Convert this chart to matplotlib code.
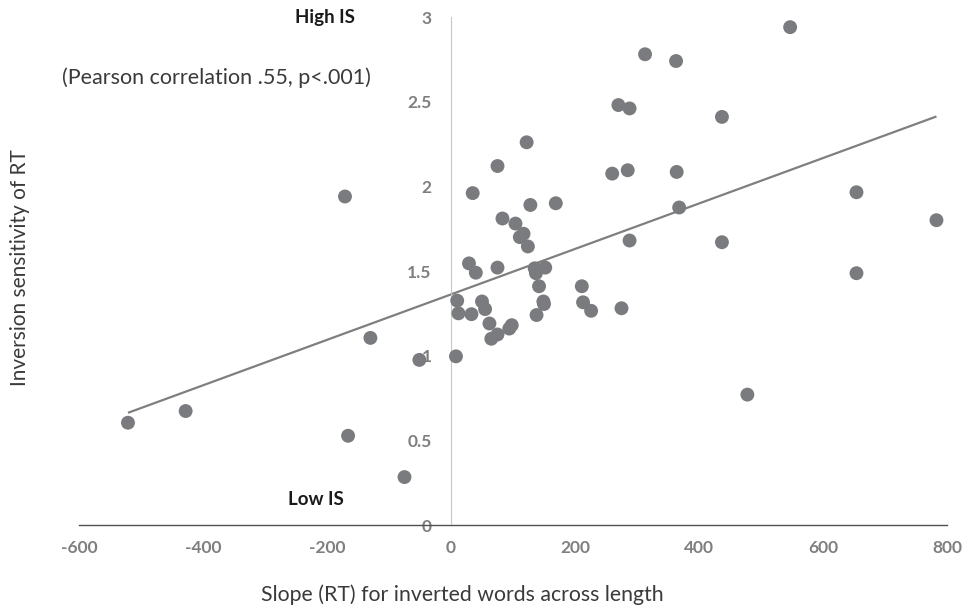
import numpy as np
import matplotlib
matplotlib.use("Agg")
import matplotlib.pyplot as plt

plt.rcParams['font.family'] = ['Lato', 'DejaVu Sans']
plt.rcParams['axes.unicode_minus'] = False

# slope (RT) for inverted words vs inversion sensitivity
slope_rt = [547, 313, 363, 270, 288, 437, 122, 75, 260, 285, 364, 35, 654, 128,
            169, 368, 783, 83, 104, 117, 111, 124, 288, 437, 29, 40, 75, 135,
            137, 152, 654, 142, 211, 10, 50, 55, 149, 150, 213, 226, 275, 12,
            33, 138, 62, 75, 65, 94, 98, 8, 478, -130, -51, -521, -428, -166,
            -75, -171]
inv_sens = [2.94, 2.78, 2.74, 2.48, 2.46, 2.41, 2.26, 2.12, 2.075, 2.095, 2.085,
            1.96, 1.965, 1.89, 1.90, 1.875, 1.80, 1.81, 1.78, 1.72, 1.70, 1.645,
            1.68, 1.67, 1.545, 1.49, 1.52, 1.516, 1.487, 1.52, 1.487, 1.41, 1.41,
            1.325, 1.32, 1.275, 1.32, 1.305, 1.315, 1.265, 1.28, 1.25, 1.245,
            1.24, 1.19, 1.125, 1.10, 1.16, 1.18, 0.996, 0.77, 1.105, 0.975,
            0.604, 0.673, 0.527, 0.283, 1.94]

xticks = [-600, -400, -200, 0, 200, 400, 600, 800]
xtick_labels = ["-600", "-400", "-200", "0", "200", "400", "600", "800"]
yticks = [0, 0.5, 1, 1.5, 2, 2.5, 3]
ytick_labels = ["0", "0.5", "1", "1.5", "2", "2.5", "3"]

x = np.array(slope_rt)
y = np.array(inv_sens)
m, b = np.polyfit(x, y, 1)

fig = plt.figure(figsize=(9.71, 6.10), dpi=100)
ax = fig.add_axes([79/971, 85/610, 868/971, 508/610])

ax.spines["left"].set_position(("data", 0))
ax.spines["left"].set_color("#c8c8c8")
ax.spines["left"].set_linewidth(0.8)
ax.spines["bottom"].set_color("#505050")
ax.spines["bottom"].set_linewidth(1.0)
ax.spines["top"].set_visible(False)
ax.spines["right"].set_visible(False)

xs = np.array([x.min(), x.max()])
ax.plot(xs, m*xs + b, color="#7f7f7f", lw=1.6, zorder=2, solid_capstyle="butt")
ax.scatter(x, y, s=100, color="#7a7b7e", edgecolors="none", zorder=3)

ax.set_xlim(-600, 800)
ax.set_ylim(0, 3)
ax.tick_params(length=0, labelsize=12.5, labelcolor="#7f7f7f")
ax.tick_params(axis="y", pad=14)
ax.tick_params(axis="x", pad=11)
ax.set_xticks(xticks, labels=xtick_labels, fontweight="bold", fontsize=12.5,
              color="#7f7f7f")
ax.set_yticks(yticks, labels=ytick_labels, fontweight="bold", fontsize=12.5,
              color="#7f7f7f")

ax.text(-203, 3.0, "High IS", fontsize=13.5, fontweight="bold", color="#1a1a1a",
        ha="center", va="center")
ax.text(-218, 0.148, "Low IS", fontsize=13.5, fontweight="bold", color="#1a1a1a",
        ha="center", va="center")
ax.text(-627, 2.64, "(Pearson correlation .55, p<.001)", fontsize=15.5,
        color="#3a3a3a", ha="left", va="center", clip_on=False)

fig.text(462/971, 1 - 595/610, "Slope (RT) for inverted words across length",
         fontsize=15.3, color="#3a3a3a", ha="center", va="center")
fig.text(20/971, 1 - 268/610, "Inversion sensitivity of RT", fontsize=15,
         color="#3a3a3a", ha="center", va="center", rotation=90)

fig.savefig("out.png", dpi=100)
